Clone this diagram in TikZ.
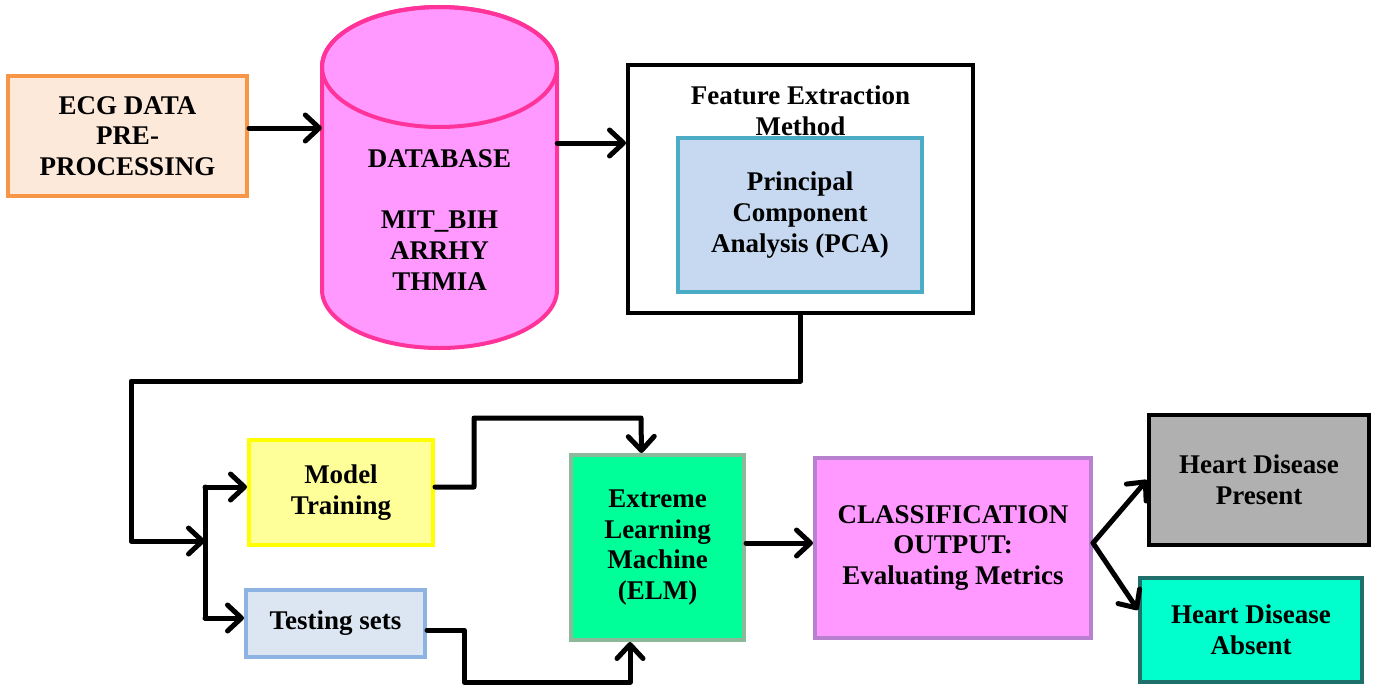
\documentclass[tikz,border=0pt]{standalone}
\usepackage{fontspec}
\setmainfont{Liberation Serif}
\usetikzlibrary{arrows.meta}
\definecolor{ecgfill}{HTML}{FDE9D9}
\definecolor{ecgdraw}{HTML}{F79646}
\definecolor{dbfill}{HTML}{FF99FF}
\definecolor{dbdraw}{HTML}{FF3399}
\definecolor{pcafill}{HTML}{C6D9F1}
\definecolor{pcadraw}{HTML}{4BACC6}
\definecolor{mtfill}{HTML}{FFFF99}
\definecolor{mtdraw}{HTML}{FFFF00}
\definecolor{tsfill}{HTML}{DCE6F2}
\definecolor{tsdraw}{HTML}{8DB3E2}
\definecolor{elmfill}{HTML}{00FF99}
\definecolor{elmdraw}{HTML}{8DB99B}
\definecolor{clsfill}{HTML}{FF99FF}
\definecolor{clsdraw}{HTML}{BA80D0}
\definecolor{hpfill}{HTML}{B0B0B0}
\definecolor{hafill}{HTML}{00FFCC}
\definecolor{hadraw}{HTML}{1F6F6A}
\begin{document}
\begin{tikzpicture}[x=1pt,y=1pt,
  txt/.style={font=\fontsize{27}{30.8}\selectfont\bfseries, align=center, text=black},
  box/.style={txt, draw, line width=4pt, rectangle, inner sep=0pt},
  conn/.style={line width=5pt, line cap=round, line join=round},
  arr/.style={conn, -{Straight Barb[length=14pt,width=26pt,line cap=round,line join=round]}}]
\useasboundingbox (0,0) rectangle (1373,-685);
% ECG
\node[box, draw=ecgdraw, fill=ecgfill, minimum width=239pt, minimum height=120pt] (ecg) at (127.5,-136) {ECG DATA\\PRE-\\PROCESSING};
% Database cylinder
\path[draw=dbdraw, fill=dbfill, line width=4pt] (322,-67) -- (322,-290)
  arc[start angle=180, end angle=360, x radius=117.5, y radius=58] -- (557,-67)
  arc[start angle=0, end angle=180, x radius=117.5, y radius=60] -- cycle;
\draw[dbdraw, line width=4pt] (439.5,-67) ellipse[x radius=117.5, y radius=60];
\node[minimum width=235pt, minimum height=341pt, inner sep=0pt] (db) at (439.5,-177.5) {};
\node[txt] (dbtext) at (439.5,-220) {DATABASE\\[30.8pt]MIT\_BIH\\ARRHY\\THMIA};
% Feature extraction
\node[box, draw=black, fill=white, minimum width=345pt, minimum height=248pt] (fe) at (800.5,-189) {};
\node[txt] (fetitle) at (800.5,-111) {Feature Extraction\\Method};
\node[box, draw=pcadraw, fill=pcafill, minimum width=244pt, minimum height=154pt] (pca) at (800,-215) {\raisebox{-3pt}{\parbox{240pt}{\centering Principal\\Component\\Analysis (PCA)}}};
% Lower row
\node[box, draw=mtdraw, fill=mtfill, minimum width=184pt, minimum height=105pt] (mt) at (341,-492.5) {Model\\Training};
\node[box, draw=tsdraw, fill=tsfill, minimum width=179pt, minimum height=67pt] (ts) at (335.5,-623.5) {Testing sets};
\node[box, draw=elmdraw, fill=elmfill, minimum width=173pt, minimum height=185pt] (elm) at (657.5,-547.5) {Extreme\\Learning\\Machine\\(ELM)};
\node[box, draw=clsdraw, fill=clsfill, minimum width=276pt, minimum height=180pt] (cls) at (953,-548) {CLASSIFICATION\\OUTPUT:\\Evaluating Metrics};
\node[box, draw=black, fill=hpfill, minimum width=220pt, minimum height=130pt] (hp) at (1259,-480) {Heart Disease\\Present};
\node[box, draw=hadraw, fill=hafill, minimum width=222pt, minimum height=104pt] (ha) at (1251,-630) {Heart Disease\\Absent};
% coordinates
\coordinate (sp) at (205,-541);
\coordinate (spt) at (205,-487);
\coordinate (spb) at (205,-618);
% connectors
\draw[arr] (ecg.east |- 0,-128) -- (db.west |- 0,-128);
\draw[arr] (db.east |- 0,-143) -- (fe.west |- 0,-143);
\draw[arr] (fe.south) -- (fe.south |- 0,-381) -- (131,-381) -- (131,-541) -- (sp);
\draw[conn] (spt) -- (spb);
\draw[arr] (spt) -- (mt.west |- spt);
\draw[arr] (spb) -- (ts.west |- spb);
\draw[arr] (mt.east |- 0,-487) -- (474,-487) -- (474,-418) -- (641,-418) -- ([xshift=-16pt]elm.north);
\draw[arr] (ts.east |- 0,-630) -- (464,-630) -- (464,-682) -- (630,-682) -- ([xshift=-27.5pt]elm.south);
\draw[arr] (elm.east |- 0,-543) -- (cls.west |- 0,-543);
\draw[arr] (cls.east |- 0,-543) -- (hp.west);
\draw[arr] (cls.east |- 0,-543) -- ([yshift=20pt]ha.west);
\end{tikzpicture}
\end{document}
